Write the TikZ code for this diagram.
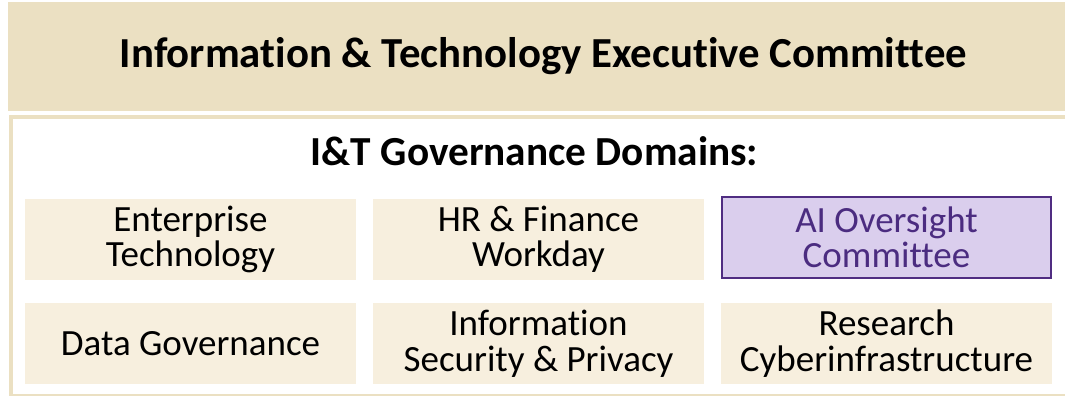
\documentclass[tikz,border=0pt]{standalone}
\usepackage{fontspec}
\setmainfont[Ligatures={NoCommon}]{Carlito}
\definecolor{tan}{RGB}{235,224,194}
\definecolor{boxfill}{RGB}{247,239,222}
\definecolor{aifill}{RGB}{218,206,237}
\definecolor{aiborder}{RGB}{80,45,130}
\definecolor{aitext}{RGB}{75,44,128}
\begin{document}
\begin{tikzpicture}[x=1pt,y=-1pt,
  domainbox/.style={fill=boxfill,draw=none,minimum width=331pt,minimum height=81pt,inner sep=0pt,align=center,
    font=\fontsize{37}{35.5}\selectfont},
  aibox/.style={domainbox,fill=aifill,draw=aiborder,line width=2.5pt,text=aitext,minimum width=329pt,minimum height=81pt},
  headline/.style={inner sep=0pt}]
\useasboundingbox (0,0) rectangle (1065,396);
% banner
\node[fill=tan,minimum width=1060pt,minimum height=108.5pt,inner sep=0pt,anchor=north west] (banner) at (8,2) {};
\node[headline,font=\fontsize{42.8}{46}\selectfont\bfseries] (title) at (543.5,56) {Information \& Technology Executive Committee};
% frame
\node[draw=tan,line width=4pt,minimum width=1070pt,minimum height=279pt,inner sep=0pt,anchor=north west] (frame) at (9,115) {};
\node[headline,font=\fontsize{41.3}{46}\selectfont\bfseries] (sub) at (534.5,151) {I\&T Governance Domains:};
% domain boxes
\node[domainbox] (ent) at (190.5,239.5) {Enterprise\\Technology};
\node[domainbox] (hr) at (538.5,239.5) {HR \& Finance\\Workday};
\node[aibox] (ai) at (886.5,237.5) {AI Oversight\\Committee};
\node[domainbox] (data) at (190.5,343.5) {Data Governance};
\node[domainbox] (sec) at (538.5,343.5) {Information\\Security \& Privacy};
\node[domainbox] (res) at (886.5,343.5) {Research\\Cyberinfrastructure};
\end{tikzpicture}
\end{document}
